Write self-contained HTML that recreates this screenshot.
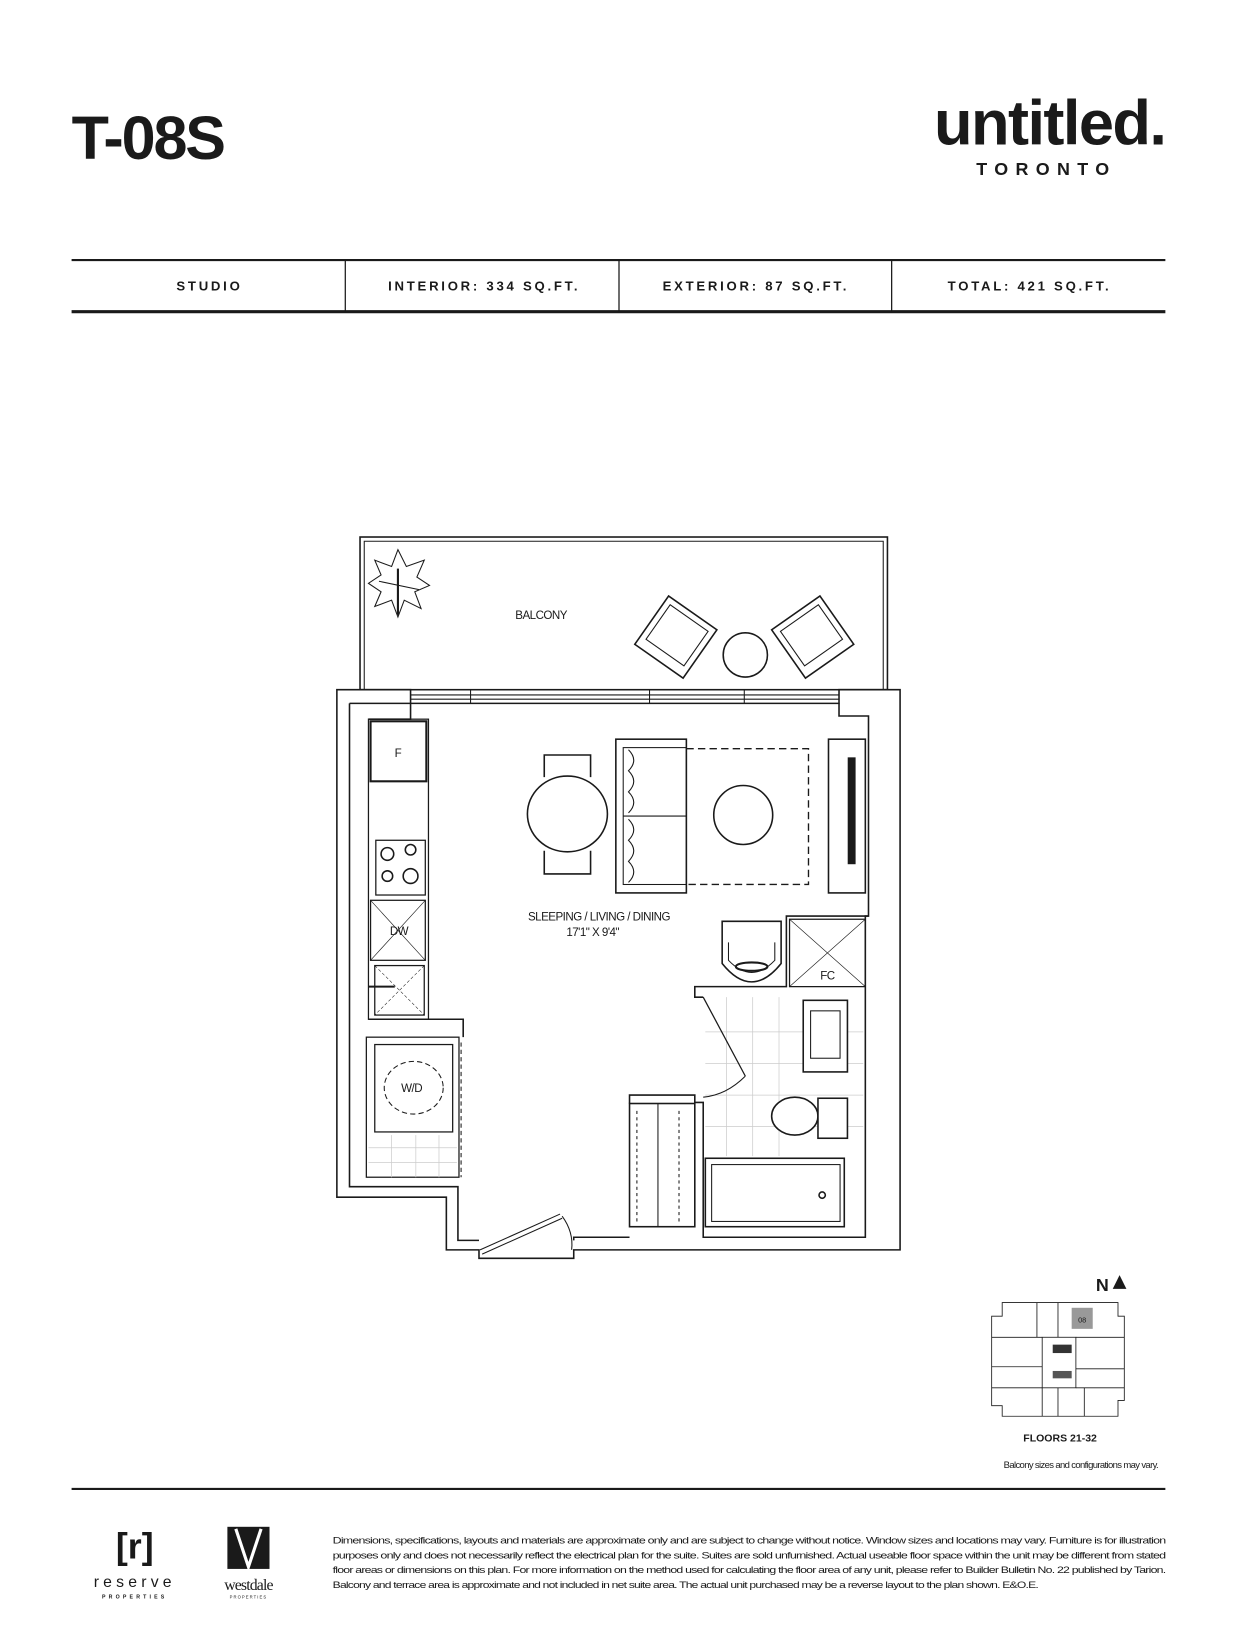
<!DOCTYPE html>
<html><head><meta charset="utf-8"><style>
html,body{margin:0;padding:0;background:#fff;}
svg{display:block;}
text{font-family:"Liberation Sans",sans-serif;fill:#1a1a1a;}
</style></head><body>
<svg width="1238" height="1650" viewBox="0 0 1176 1567" preserveAspectRatio="none" xmlns="http://www.w3.org/2000/svg">
<rect width="1176" height="1567" fill="#fff"/>
<text x="68" y="151" font-size="58" font-weight="bold" letter-spacing="-2">T-08S</text>
<text x="1107" y="137" font-size="60" font-weight="bold" text-anchor="end" letter-spacing="-1.5">untitled.</text>
<text x="994" y="166" font-size="17" font-weight="bold" text-anchor="middle" letter-spacing="7">TORONTO</text>
<line x1="68" y1="247" x2="1107" y2="247" stroke="#1a1a1a" stroke-width="2"/>
<line x1="68" y1="296" x2="1107" y2="296" stroke="#1a1a1a" stroke-width="3"/>
<g stroke="#1a1a1a" stroke-width="1.2"><line x1="328" y1="247" x2="328" y2="296"/><line x1="588" y1="247" x2="588" y2="296"/><line x1="847" y1="247" x2="847" y2="296"/></g>
<g font-size="12.5" font-weight="bold" text-anchor="middle" letter-spacing="2.6">
<text x="199" y="276">STUDIO</text><text x="460" y="276">INTERIOR: 334 SQ.FT.</text>
<text x="718" y="276">EXTERIOR: 87 SQ.FT.</text><text x="978" y="276">TOTAL: 421 SQ.FT.</text></g>

<g fill="none" stroke="#1a1a1a" stroke-width="1.5">
<rect x="342" y="510" width="501" height="145"/>
<polyline points="346,655 346,514 839,514 839,655" stroke-width="1"/>
<polygon points="320,655 390,655 390,668 797,668 797,655 855,655 855,1187 545,1187 545,1195 455,1195 455,1187 424,1187 424,1137 320,1137" fill="#fff"/>
<polyline points="390,668 390,683 350,683"/>
<polyline points="332,668 332,1127 435,1127 435,1178 455,1178"/>
<polyline points="332,668 390,668"/>
<polyline points="797,668 797,680 825,680 825,870 747,870 747,937 660,937 660,947 668,947"/>
<polyline points="825,870 822,870 822,1175 668,1175 668,1047 660,1047 660,1040 598,1040 598,1048"/>
<polyline points="545,1178 545,1175 598,1175"/>
<line x1="390" y1="660" x2="797" y2="660" stroke-width="1"/>
<line x1="390" y1="664" x2="797" y2="664" stroke-width="1"/>
<g stroke-width="1"><line x1="447" y1="655" x2="447" y2="668"/><line x1="617" y1="655" x2="617" y2="668"/><line x1="707" y1="655" x2="707" y2="668"/></g>
<rect x="350" y="683" width="57" height="285" stroke-width="1.2"/>
<rect x="352" y="685" width="53" height="57" stroke-width="2"/>
<rect x="357" y="798" width="47" height="52" stroke-width="1.2"/>
<circle cx="368" cy="811" r="6"/><circle cx="390" cy="807" r="5"/><circle cx="368" cy="832" r="5"/><circle cx="390" cy="832" r="7"/>
<rect x="352" y="855" width="52" height="57" stroke-width="1.2"/>
<line x1="352" y1="855" x2="404" y2="912" stroke-width=".6"/><line x1="404" y1="855" x2="352" y2="912" stroke-width=".6"/>
<rect x="356" y="917" width="47" height="47" stroke-width="1.2"/>
<line x1="356" y1="917" x2="403" y2="964" stroke-width=".5" stroke-dasharray="3 2"/><line x1="403" y1="917" x2="356" y2="964" stroke-width=".5" stroke-dasharray="3 2"/>
<line x1="350" y1="937" x2="375" y2="937" stroke-width="2"/>
<polyline points="350,968 440,968 440,985"/>
<rect x="348" y="985" width="88" height="133" stroke-width="1.2"/>
<rect x="356" y="992" width="74" height="83" stroke-width="1.2"/>
<ellipse cx="393" cy="1033" rx="28" ry="25" stroke-dasharray="5 3" stroke-width="1"/>
<g stroke="#ccc" stroke-width=".7"><line x1="350" y1="1090" x2="434" y2="1090"/><line x1="350" y1="1104" x2="434" y2="1104"/><line x1="372" y1="1078" x2="372" y2="1118"/><line x1="395" y1="1078" x2="395" y2="1118"/><line x1="417" y1="1078" x2="417" y2="1118"/></g>
<line x1="438" y1="990" x2="438" y2="1118" stroke-dasharray="4 3" stroke-width="1"/>
<ellipse cx="539" cy="773" rx="38" ry="36"/>
<path d="M517,738 L517,717 L561,717 L561,738"/><path d="M517,808 L517,830 L561,830 L561,808"/>
<rect x="585" y="702" width="67" height="146"/>
<rect x="592" y="710" width="60" height="130" stroke-width="1"/>
<line x1="592" y1="775" x2="652" y2="775" stroke-width="1"/>
<path d="M597,712 q10,10 0,20 q10,10 0,20 q10,10 0,20" stroke-width="1"/>
<path d="M597,778 q10,10 0,20 q10,10 0,20 q10,10 0,20" stroke-width="1"/>
<polyline points="652,711 768,711 768,840 652,840" stroke-dasharray="7 4" stroke-width="1.3"/>
<circle cx="706" cy="774" r="28"/>
<rect x="787" y="702" width="35" height="146"/>
<rect x="806" y="720" width="6" height="100" fill="#1a1a1a"/>
<path d="M686,875 L742,875 L742,915 Q714,950 686,915 Z"/>
<path d="M692,895 L692,912 Q714,935 736,912 L736,895" stroke-width="1"/>
<ellipse cx="714" cy="918" rx="15" ry="4" stroke-width="2"/>
<rect x="750" y="873" width="72" height="64" stroke-width="1.2"/>
<line x1="750" y1="873" x2="822" y2="937" stroke-width=".6"/><line x1="822" y1="873" x2="750" y2="937" stroke-width=".6"/>
<g stroke="#ccc" stroke-width=".7"><line x1="670" y1="980" x2="820" y2="980"/><line x1="670" y1="1010" x2="820" y2="1010"/><line x1="670" y1="1040" x2="820" y2="1040"/><line x1="670" y1="1070" x2="820" y2="1070"/><line x1="690" y1="947" x2="690" y2="1098"/><line x1="715" y1="947" x2="715" y2="1098"/><line x1="740" y1="947" x2="740" y2="1098"/></g>
<rect x="763" y="950" width="42" height="68" fill="#fff"/>
<rect x="770" y="960" width="28" height="45" stroke-width="1"/>
<ellipse cx="755" cy="1060" rx="22" ry="18" fill="#fff"/>
<rect x="777" y="1043" width="28" height="38" fill="#fff"/>
<rect x="670" y="1100" width="132" height="65" fill="#fff"/>
<rect x="676" y="1106" width="122" height="54" stroke-width="1"/>
<circle cx="781" cy="1135" r="3"/>
<line x1="668" y1="947" x2="708" y2="1022" stroke-width="1.2"/>
<path d="M708,1022 Q690,1040 668,1042" stroke-width="1"/>
<rect x="598" y="1048" width="62" height="117"/>
<line x1="625" y1="1048" x2="625" y2="1165" stroke-width="1"/>
<line x1="605" y1="1055" x2="605" y2="1160" stroke-dasharray="3 3" stroke-width="1"/>
<line x1="645" y1="1055" x2="645" y2="1160" stroke-dasharray="3 3" stroke-width="1"/>
<line x1="456" y1="1187" x2="532" y2="1153" stroke-width="1"/>
<line x1="458" y1="1191" x2="534" y2="1157" stroke-width="1"/>
<path d="M534,1155 Q545,1170 543,1187" stroke-width="1"/>
<g transform="rotate(35 642 605)"><rect x="614" y="577" width="56" height="56"/><rect x="620" y="583" width="44" height="40" stroke-width="1"/></g>
<g transform="rotate(-35 772 605)"><rect x="744" y="577" width="56" height="56"/><rect x="750" y="583" width="44" height="40" stroke-width="1"/></g>
<circle cx="708" cy="622" r="21"/>
<g stroke-width="1"><polygon points="378,522 386,538 403,532 396,548 408,556 394,562 400,578 384,570 378,586 372,570 356,576 362,562 350,554 362,546 356,532 372,538"/><line x1="378" y1="540" x2="378" y2="584" stroke-width="2"/><line x1="360" y1="552" x2="398" y2="560"/></g>
</g>
<g font-size="11" text-anchor="middle" letter-spacing="-.5">
<text x="514" y="588">BALCONY</text>
<text x="378" y="719">F</text><text x="379" y="888">DW</text><text x="391" y="1037">W/D</text><text x="786" y="930">FC</text>
<text x="569" y="874">SLEEPING / LIVING / DINING</text><text x="563" y="889">17'1" X 9'4"</text>
</g>

<text x="1041" y="1226" font-size="17" font-weight="bold">N</text>
<polygon points="1057,1224 1070,1224 1063.5,1211" fill="#1a1a1a"/>
<g fill="none" stroke="#1a1a1a" stroke-width=".8">
<polygon points="952,1237 1062,1237 1062,1250 1068,1250 1068,1330 1062,1330 1062,1345 952,1345 952,1335 942,1335 942,1250 952,1250"/>
<line x1="942" y1="1270" x2="990" y2="1270"/><line x1="942" y1="1298" x2="990" y2="1298"/><line x1="942" y1="1318" x2="990" y2="1318"/>
<line x1="1022" y1="1270" x2="1068" y2="1270"/><line x1="1022" y1="1300" x2="1068" y2="1300"/><line x1="1022" y1="1318" x2="1068" y2="1318"/>
<line x1="985" y1="1237" x2="985" y2="1270"/><line x1="1005" y1="1237" x2="1005" y2="1270"/>
<line x1="990" y1="1318" x2="990" y2="1345"/><line x1="1005" y1="1318" x2="1005" y2="1345"/><line x1="1030" y1="1318" x2="1030" y2="1345"/>
<rect x="990" y="1270" width="32" height="48"/>
</g>
<rect x="1018" y="1242" width="20" height="20" fill="#999"/>
<text x="1028" y="1256" font-size="7" text-anchor="middle">08</text>
<rect x="1000" y="1277" width="18" height="8" fill="#333"/><rect x="1000" y="1302" width="18" height="7" fill="#555"/>
<text x="1007" y="1369" font-size="10" font-weight="bold" text-anchor="middle">FLOORS 21-32</text>
<text x="1100" y="1394" font-size="9" text-anchor="end" letter-spacing="-.6">Balcony sizes and configurations may vary.</text>

<line x1="68" y1="1414" x2="1107" y2="1414" stroke="#1a1a1a" stroke-width="2"/>
<text x="128" y="1480" font-size="34" font-weight="bold" text-anchor="middle">[r]</text>
<text x="128" y="1507" font-size="15" text-anchor="middle" letter-spacing="4">reserve</text>
<text x="128" y="1518" font-size="5" font-weight="bold" text-anchor="middle" letter-spacing="3">PROPERTIES</text>
<rect x="216" y="1450" width="40" height="40" fill="#1a1a1a"/>
<polyline points="224,1452 236,1488 248,1452" fill="none" stroke="#fff" stroke-width="3"/>
<text x="236" y="1510" font-size="15" text-anchor="middle" letter-spacing="-.8" style="font-family:'Liberation Serif',serif">westdale</text>
<text x="236" y="1518" font-size="4" text-anchor="middle" letter-spacing="1">PROPERTIES</text>
<g font-size="8.6" letter-spacing="-.55">
<text x="316" y="1466" textLength="791" lengthAdjust="spacingAndGlyphs">Dimensions, specifications, layouts and materials are approximate only and are subject to change without notice. Window sizes and locations may vary. Furniture is for illustration</text>
<text x="316" y="1480" textLength="791" lengthAdjust="spacingAndGlyphs">purposes only and does not necessarily reflect the electrical plan for the suite. Suites are sold unfurnished. Actual useable floor space within the unit may be different from stated</text>
<text x="316" y="1494" textLength="791" lengthAdjust="spacingAndGlyphs">floor areas or dimensions on this plan. For more information on the method used for calculating the floor area of any unit, please refer to Builder Bulletin No. 22 published by Tarion.</text>
<text x="316" y="1508" textLength="670" lengthAdjust="spacingAndGlyphs">Balcony and terrace area is approximate and not included in net suite area. The actual unit purchased may be a reverse layout to the plan shown. E&amp;O.E.</text>
</g>
</svg>
</body></html>
